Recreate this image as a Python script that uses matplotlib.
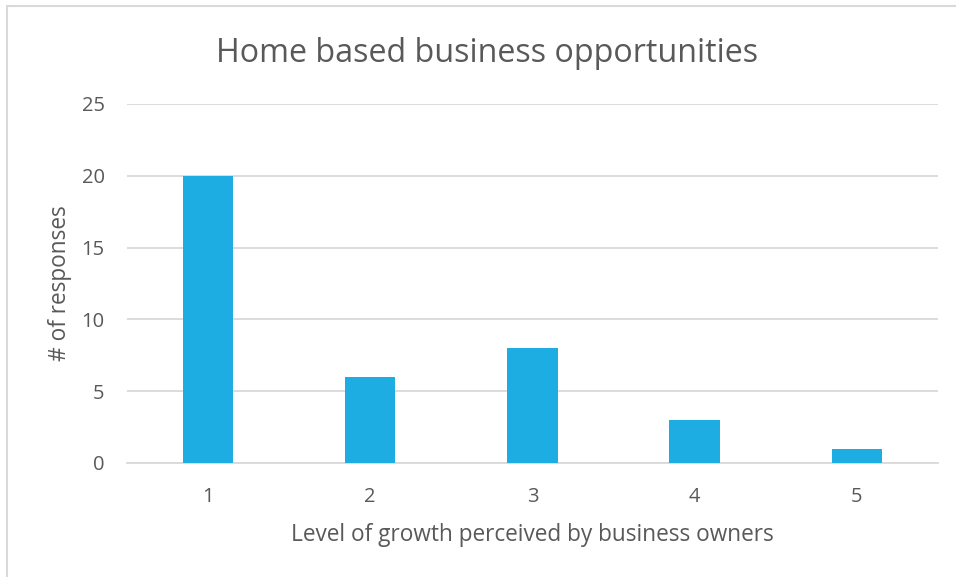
import matplotlib
matplotlib.use("Agg")
import matplotlib.pyplot as plt
from matplotlib.patches import Rectangle

categories = ["1", "2", "3", "4", "5"]
responses = [20, 6, 8, 3, 1]
y_ticks = [0, 5, 10, 15, 20, 25]

title = "Home based business opportunities"
x_label = "Level of growth perceived by business owners"
y_label = "# of responses"

bar_color = "#1EADE3"
text_color = "#595959"
grid_color = "#D9D9D9"

plt.rcParams["font.family"] = ["Open Sans", "DejaVu Sans"]

fig = plt.figure(figsize=(9.56, 5.77), dpi=100)
# chart frame: only its top and left edges fall inside the canvas
fig.patches.append(Rectangle((0.0073, -0.05), 1.1, 1.04, transform=fig.transFigure,
                             fill=False, edgecolor="#D9D9D9", linewidth=1.5))

ax = fig.add_axes([0.1328, 0.1976, 0.8482, 0.6222])
x = list(range(len(categories)))
ax.bar(x, responses, width=0.31, color=bar_color, zorder=3)

ax.set_xlim(-0.5, len(categories) - 0.5)
ax.set_ylim(0, 25)
ax.set_yticks(y_ticks)
ax.set_xticks(x)
ax.set_xticklabels(categories)
ax.yaxis.grid(True, color=grid_color, linewidth=1.3, zorder=0)
ax.set_axisbelow(True)
for side in ["top", "right", "left"]:
    ax.spines[side].set_visible(False)
ax.spines["bottom"].set_color(grid_color)
ax.spines["bottom"].set_linewidth(1.3)
ax.tick_params(axis="both", length=0, labelsize=14.5, colors=text_color)
ax.tick_params(axis="y", pad=16)
ax.tick_params(axis="x", pad=17)

ax.set_xlabel(x_label, fontsize=16.3, color=text_color, labelpad=12)
ax.set_ylabel(y_label, fontsize=16.3, color=text_color, labelpad=7)
fig.text(0.509, 0.908, title, ha="center", va="center", fontsize=23.2, color=text_color)

fig.savefig("out.png", dpi=100, facecolor="white")
